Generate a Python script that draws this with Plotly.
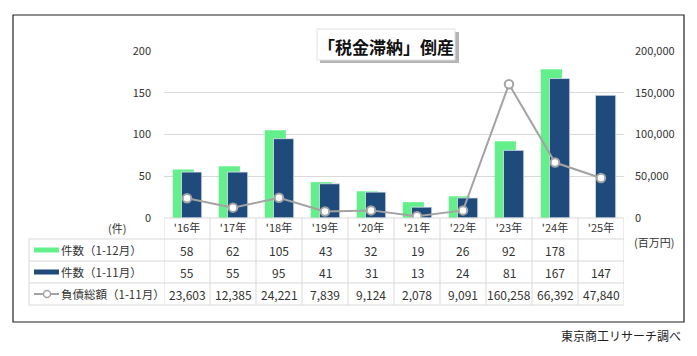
import plotly.graph_objects as go

categories = ["'16年", "'17年", "'18年", "'19年", "'20年", "'21年", "'22年", "'23年", "'24年", "'25年"]
count_full = [58, 62, 105, 43, 32, 19, 26, 92, 178, None]
count_nov = [55, 55, 95, 41, 31, 13, 24, 81, 167, 147]
debt_nov = [23603, 12385, 24221, 7839, 9124, 2078, 9091, 160258, 66392, 47840]
row_labels = ["件数（1-12月）", "件数（1-11月）", "負債総額（1-11月）"]
left_ticks = [0, 50, 100, 150, 200]
right_ticks = [0, 50000, 100000, 150000, 200000]

GREEN = "#63F08B"
BLUE = "#1F4A7C"
GRAY = "#A3A3A3"
GRID = "#D9D9D9"
TXT = "#333333"
FONT = "Noto Sans CJK JP"

W, H = 697, 356
L, R, T, B = 164, 624, 51, 218  # plot area pixels


def px(x):
    return (x - L) / (R - L)


def py(y):
    return (B - y) / (B - T)


fig = go.Figure()
fig.add_trace(go.Bar(x=categories, y=count_full, name=row_labels[0],
                     marker=dict(color=GREEN, line=dict(width=0)),
                     width=0.46, offset=-0.31, yaxis="y"))
fig.add_trace(go.Bar(x=categories, y=count_nov, name=row_labels[1],
                     marker=dict(color=BLUE, line=dict(width=0.8, color="#DDE4EE")),
                     width=0.44, offset=-0.12, yaxis="y"))
fig.add_trace(go.Scatter(x=categories, y=debt_nov, name=row_labels[2], mode="lines+markers",
                         line=dict(color=GRAY, width=2),
                         marker=dict(size=8.5, color="white", line=dict(color=GRAY, width=2)),
                         yaxis="y2"))

shapes = []
# outer frame
shapes.append(dict(type="rect", xref="paper", yref="paper", x0=px(13), x1=px(684), y0=py(15), y1=py(322),
                   line=dict(color="#222222", width=1.2), fillcolor="rgba(0,0,0,0)", layer="below"))
# table horizontal lines
for yy in [239, 261, 283, 305]:
    shapes.append(dict(type="line", xref="paper", yref="paper", x0=px(29), x1=px(624), y0=py(yy), y1=py(yy),
                       line=dict(color=GRID, width=1), layer="above"))
shapes.append(dict(type="line", xref="paper", yref="paper", x0=0, x1=1, y0=0, y1=0,
                   line=dict(color=GRID, width=1), layer="above"))
# table vertical lines
for i in range(len(categories) + 1):
    shapes.append(dict(type="line", xref="x", yref="paper", x0=i - 0.5, x1=i - 0.5, y0=py(218), y1=py(305),
                       line=dict(color=GRID, width=1), layer="above"))
shapes.append(dict(type="line", xref="paper", yref="paper", x0=px(29), x1=px(29), y0=py(239), y1=py(305),
                   line=dict(color=GRID, width=1), layer="above"))
# legend keys in table
shapes.append(dict(type="rect", xref="paper", yref="paper", x0=px(34), x1=px(59), y0=py(247.5), y1=py(252.5),
                   fillcolor=GREEN, line=dict(width=0), layer="above"))
shapes.append(dict(type="rect", xref="paper", yref="paper", x0=px(34), x1=px(59), y0=py(269.5), y1=py(274.5),
                   fillcolor=BLUE, line=dict(width=0), layer="above"))
shapes.append(dict(type="line", xref="paper", yref="paper", x0=px(34), x1=px(59), y0=py(294), y1=py(294),
                   line=dict(color=GRAY, width=2), layer="above"))
shapes.append(dict(type="circle", xref="paper", yref="paper", x0=px(43.5), x1=px(50.5), y0=py(290.5), y1=py(297.5),
                   fillcolor="white", line=dict(color=GRAY, width=1.5), layer="above"))
# title box with shadow
shapes.append(dict(type="rect", xref="paper", yref="paper", x0=px(320), x1=px(459), y0=py(32), y1=py(63),
                   fillcolor="rgba(120,120,120,0.55)", line=dict(width=0), layer="above"))
shapes.append(dict(type="rect", xref="paper", yref="paper", x0=px(317), x1=px(455), y0=py(29), y1=py(60),
                   fillcolor="white", line=dict(color="#E0E0E0", width=1), layer="above"))

annotations = []
annotations.append(dict(text="<b>「税金滞納」倒産</b>", xref="paper", yref="paper", x=px(386), y=py(46.5),
                        showarrow=False, font=dict(size=17, color="#111111", family=FONT),
                        xanchor="center", yanchor="middle"))
annotations.append(dict(text="(件)", xref="paper", yref="paper", x=px(117), y=py(228),
                        showarrow=False, font=dict(size=11, color=TXT, family=FONT),
                        xanchor="center", yanchor="middle"))
annotations.append(dict(text="(百万円)", xref="paper", yref="paper", x=px(654), y=py(242),
                        showarrow=False, font=dict(size=11, color=TXT, family=FONT),
                        xanchor="center", yanchor="middle"))
annotations.append(dict(text="東京商工リサーチ調べ", xref="paper", yref="paper", x=px(683), y=py(335),
                        showarrow=False, font=dict(size=12, color="#222222", family=FONT),
                        xanchor="right", yanchor="middle"))
row_y = [250, 272, 294]
for lbl, yy in zip(row_labels, row_y):
    annotations.append(dict(text=lbl, xref="paper", yref="paper", x=px(59), y=py(yy),
                            showarrow=False, font=dict(size=11.5, color=TXT, family=FONT),
                            xanchor="left", yanchor="middle"))
for series, yy in zip([count_full, count_nov, debt_nov], row_y):
    for c, v in zip(categories, series):
        if v is None:
            continue
        annotations.append(dict(text=f"{v:,}", xref="x", yref="paper", x=c, y=py(yy),
                                showarrow=False, font=dict(size=12, color=TXT, family=FONT),
                                xanchor="center", yanchor="middle"))

fig.update_layout(
    width=W, height=H,
    margin=dict(l=L, r=W - R, t=T, b=H - B, pad=0),
    paper_bgcolor="white", plot_bgcolor="white",
    barmode="overlay", showlegend=False,
    font=dict(family=FONT, size=11, color=TXT),
    xaxis=dict(type="category", categoryorder="array", categoryarray=categories,
               range=[-0.5, len(categories) - 0.5], showgrid=False, zeroline=False,
               showline=False, ticks="", tickfont=dict(size=11, color=TXT, family=FONT),
               ticklabelstandoff=2),
    yaxis=dict(range=[0, 200], tickvals=left_ticks, showgrid=True, gridcolor=GRID, gridwidth=1,
               zeroline=False, showline=False, ticks="", ticklabelstandoff=12,
               tickfont=dict(size=11, color=TXT, family=FONT)),
    yaxis2=dict(range=[0, 200000], tickvals=right_ticks, ticktext=[f"{v:,}" for v in right_ticks],
                overlaying="y", side="right", showgrid=False, zeroline=False, showline=False,
                ticks="", ticklabelstandoff=10, tickfont=dict(size=11, color=TXT, family=FONT)),
    shapes=shapes, annotations=annotations,
)

fig.write_html("out.html")
